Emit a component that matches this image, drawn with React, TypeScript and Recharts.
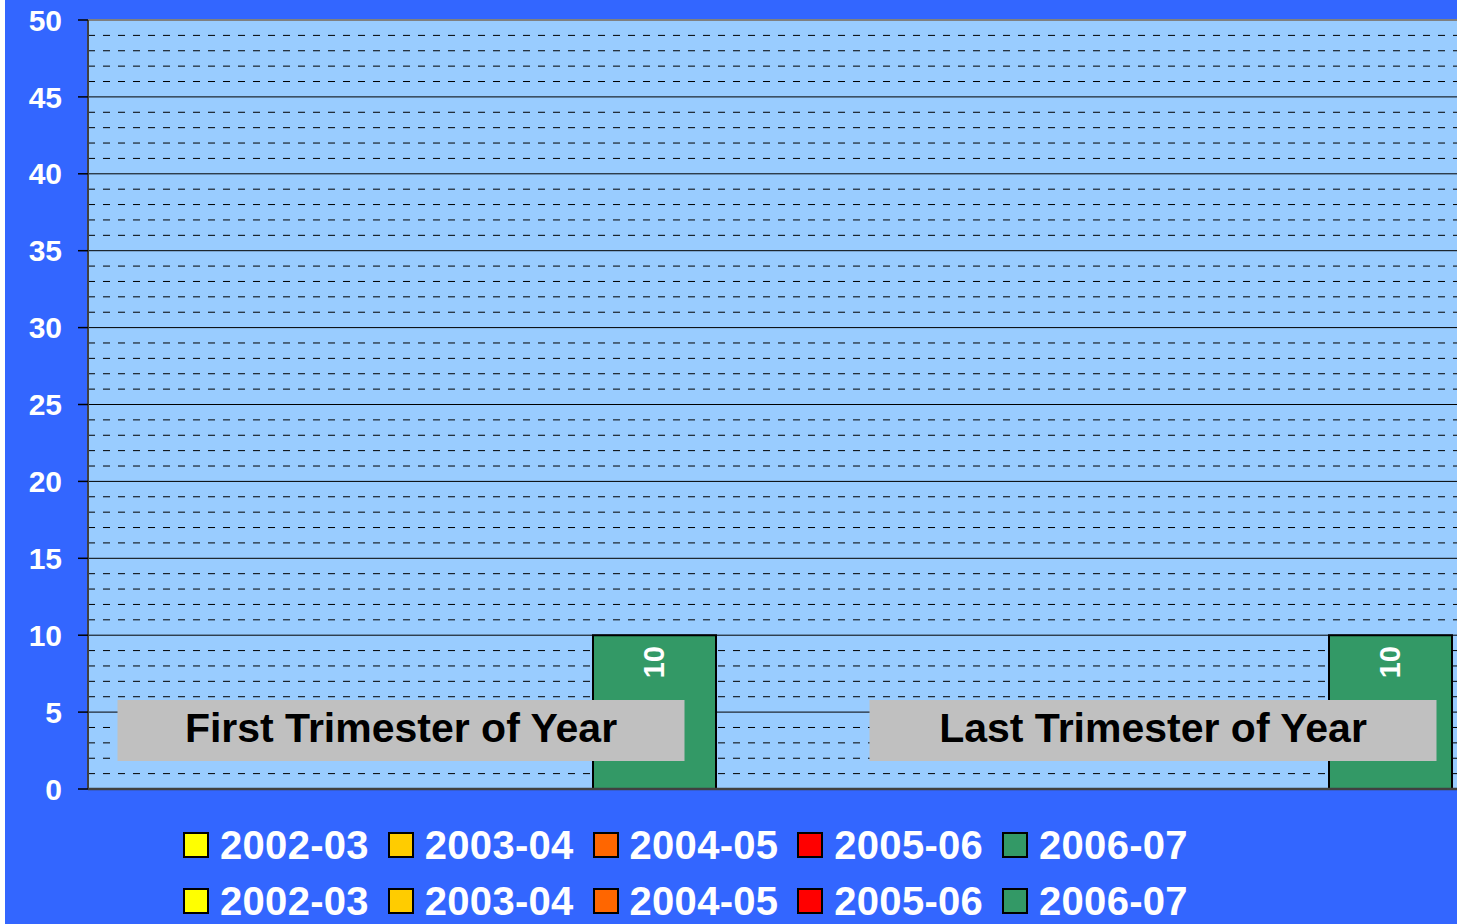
import React from 'react';
import { BarChart, Bar, XAxis, YAxis, CartesianGrid, Legend, LabelList, ReferenceLine } from 'recharts';

const categories = ['First Trimester of Year', 'Last Trimester of Year'];
const seriesNames = ['2002-03', '2003-04', '2004-05', '2005-06', '2006-07'];
const seriesColors = ['#FFFF00', '#FFCC00', '#FF6600', '#FF0000', '#339966'];
const values2002_03 = [0, 0];
const values2003_04 = [0, 0];
const values2004_05 = [0, 0];
const values2005_06 = [0, 0];
const values2006_07 = [10, 10];
const yTicks = [0, 5, 10, 15, 20, 25, 30, 35, 40, 45, 50];
const minorGridValues = [
  1, 2, 3, 4, 6, 7, 8, 9, 11, 12, 13, 14, 16, 17, 18, 19, 21, 22, 23, 24,
  26, 27, 28, 29, 31, 32, 33, 34, 36, 37, 38, 39, 41, 42, 43, 44, 46, 47, 48, 49,
];

const seriesValues = [values2002_03, values2003_04, values2004_05, values2005_06, values2006_07];

const data = categories.map((name, i) => {
  const row: Record<string, string | number> = { name };
  seriesNames.forEach((s, j) => {
    row[s] = seriesValues[j][i];
  });
  return row;
});

const FONT = '"Liberation Sans", Arial, Helvetica, sans-serif';
const labelOffsets = [-55, -39];

const CategoryTick = (props: any) => {
  const { x, y, payload, index } = props;
  const cx = x + (labelOffsets[index] ?? -47);
  return (
    <g>
      <rect x={cx - 283.5} y={y - 89} width={567} height={61} fill="#C0C0C0" />
      <text
        x={cx}
        y={y - 61}
        textAnchor="middle"
        dominantBaseline="central"
        fontFamily={FONT}
        fontWeight="bold"
        fontSize={41}
        fill="#000"
      >
        {payload.value}
      </text>
    </g>
  );
};

const BarValueLabel = (props: any) => {
  const { x, y, width, value } = props;
  if (!value) return null;
  const cx = x + width / 2;
  const cy = y + 27;
  return (
    <text
      x={cx}
      y={cy}
      transform={`rotate(-90, ${cx}, ${cy})`}
      textAnchor="middle"
      dominantBaseline="central"
      fontFamily={FONT}
      fontWeight="bold"
      fontSize={29}
      fill="#FFFFFF"
    >
      {value}
    </text>
  );
};

const LegendRows = (props: any) => {
  const payload = props.payload || [];
  const row = (key: string) => (
    <div key={key} style={{ display: 'flex', height: 56, alignItems: 'center' }}>
      {payload.map((p: any) => (
        <div key={p.value} style={{ width: 204.75, display: 'flex', alignItems: 'center' }}>
          <div
            style={{
              width: 26,
              height: 26,
              boxSizing: 'border-box',
              border: '2px solid #000',
              background: p.color,
              marginRight: 11,
            }}
          />
          <span
            style={{
              fontFamily: FONT,
              fontWeight: 'bold',
              fontSize: 40,
              lineHeight: 1,
              color: '#FFFFFF',
              whiteSpace: 'nowrap',
              letterSpacing: 0.3,
            }}
          >
            {p.value}
          </span>
        </div>
      ))}
    </div>
  );
  return (
    <div>
      {row('a')}
      {row('b')}
    </div>
  );
};

export default function App() {
  return (
    <div
      style={{
        position: 'absolute',
        left: 5,
        top: 0,
        width: 1452,
        height: 924,
        overflow: 'hidden',
        background: '#3366FF',
      }}
    >
      <BarChart
        width={1555}
        height={924}
        data={data}
        margin={{ top: 20, right: 0, bottom: 125, left: 0 }}
        barSize={123}
        barGap={-24}
      >
        <CartesianGrid
          vertical={false}
          fill="#99CCFF"
          fillOpacity={1}
          horizontalValues={minorGridValues}
          stroke="#000"
          strokeDasharray="7 8"
          strokeWidth={1}
        />
        <CartesianGrid
          vertical={false}
          horizontalValues={yTicks}
          stroke="#000"
          strokeWidth={1}
        />
        <ReferenceLine y={50} stroke="#808080" strokeWidth={2} />
        {seriesNames.map((s, i) => (
          <Bar
            key={s}
            dataKey={s}
            fill={seriesColors[i]}
            stroke="#000"
            strokeWidth={2}
            isAnimationActive={false}
          >
            <LabelList dataKey={s} content={<BarValueLabel />} />
          </Bar>
        ))}
        <YAxis
          width={83}
          domain={[0, 50]}
          ticks={yTicks}
          interval={0}
          tickSize={10}
          tickMargin={16}
          axisLine={{ stroke: '#404040', strokeWidth: 2 }}
          tickLine={{ stroke: '#000', strokeWidth: 1.5 }}
          tick={{ fill: '#FFFFFF', fontFamily: FONT, fontWeight: 'bold', fontSize: 30 }}
        />
        <XAxis
          dataKey="name"
          height={10}
          tickSize={0}
          tickMargin={0}
          tickLine={false}
          interval={0}
          axisLine={{ stroke: '#404040', strokeWidth: 2.5 }}
          tick={<CategoryTick />}
        />
        <Legend
          layout="horizontal"
          verticalAlign="middle"
          align="center"
          content={<LegendRows />}
          wrapperStyle={{ top: 817, left: 178, width: 1100 }}
        />
      </BarChart>
    </div>
  );
}
